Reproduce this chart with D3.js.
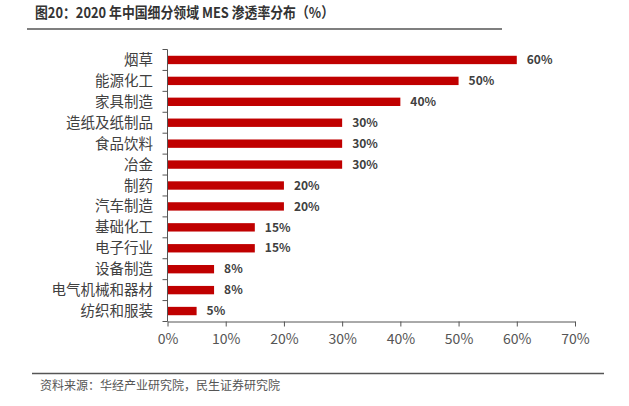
<!DOCTYPE html>
<html><head><meta charset="utf-8">
<script src="https://cdn.jsdelivr.net/npm/d3@7"></script>
<style>
html,body{margin:0;padding:0;background:#fff;}
svg{display:block;font-family:"Noto Sans CJK SC","Noto Sans",sans-serif;}
</style></head>
<body>
<svg id="c" width="629" height="406"></svg>
<script>
const categories = ["烟草","能源化工","家具制造","造纸及纸制品","食品饮料","冶金","制药","汽车制造","基础化工","电子行业","设备制造","电气机械和器材","纺织和服装"];
const values = [60,50,40,30,30,30,20,20,15,15,8,8,5];
const xTicks = [0,10,20,30,40,50,60,70];
const titleText = "图20：2020 年中国细分领域 MES 渗透率分布（%）";
const sourceText = "资料来源：华经产业研究院，民生证券研究院";

const svg = d3.select("#c");
const pL = 167.5, pR = 575, pT = 49.5, pB = 321.5;
const x = d3.scaleLinear().domain([0,70]).range([pL,pR]);
const y = d3.scaleBand().domain(categories).range([pT,pB]).paddingInner(0.6).paddingOuter(0.3);

// title
svg.append("text").attr("x",35).attr("y",17.5).attr("font-size",14.5).attr("font-weight","bold")
  .attr("fill","#333").attr("textLength",299).attr("lengthAdjust","spacingAndGlyphs").text(titleText);
svg.append("line").attr("x1",27).attr("x2",502).attr("y1",29).attr("y2",29)
  .attr("stroke","#555").attr("stroke-width",1.5);

// bars
svg.append("g").selectAll("rect").data(values).join("rect")
  .attr("x",x(0)).attr("y",(d,i)=>y(categories[i]))
  .attr("width",d=>x(d)-x(0)).attr("height",y.bandwidth())
  .attr("fill","#C00000");

// value labels
svg.append("g").selectAll("text").data(values).join("text")
  .attr("x",d=>x(d)+10).attr("y",(d,i)=>y(categories[i])+y.bandwidth()/2)
  .attr("dy","0.35em").attr("font-size",12).attr("font-weight","bold").attr("fill","#404040")
  .text(d=>d+"%");

// y axis
const yStep = (pB-pT)/categories.length;
const gy = svg.append("g");
gy.append("line").attr("x1",pL).attr("x2",pL).attr("y1",pT).attr("y2",pB).attr("stroke","#555");
gy.selectAll("line.t").data(d3.range(categories.length+1)).join("line").attr("class","t")
  .attr("x1",pL-5).attr("x2",pL).attr("y1",i=>pT+i*yStep).attr("y2",i=>pT+i*yStep).attr("stroke","#555");
gy.selectAll("text").data(categories).join("text")
  .attr("x",153).attr("y",d=>y(d)+y.bandwidth()/2).attr("dy","0.35em")
  .attr("text-anchor","end").attr("font-size",14.5).attr("fill","#404040").text(d=>d);

// x axis
const gx = svg.append("g").attr("transform",`translate(0,${pB})`)
  .call(d3.axisBottom(x).tickValues(xTicks).tickFormat(d=>d+"%").tickSize(5).tickSizeOuter(0).tickPadding(8));
gx.select(".domain").attr("stroke","#555");
gx.selectAll(".tick line").attr("stroke","#555");
gx.selectAll(".tick text").attr("font-size",14).attr("fill","#555").attr("font-family","'Noto Sans CJK SC',sans-serif");

// footer
svg.append("line").attr("x1",32).attr("x2",604).attr("y1",373.5).attr("y2",373.5)
  .attr("stroke","#555").attr("stroke-width",1.5);
svg.append("text").attr("x",40).attr("y",389.5).attr("font-size",12).attr("fill","#555").text(sourceText);
</script>
</body></html>
